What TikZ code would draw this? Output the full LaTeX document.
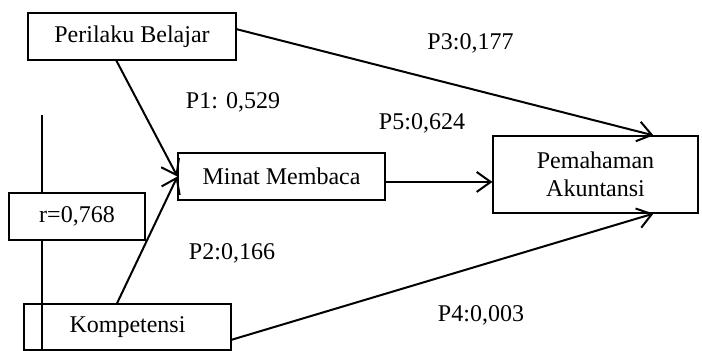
\documentclass[tikz,border=0pt]{standalone}
\usepackage{fontspec}
\setmainfont{Liberation Serif}
\usetikzlibrary{arrows.meta}

\begin{document}
\begin{tikzpicture}[x=0.5pt, y=-0.5pt, font=\fontsize{12}{14}\selectfont,
  box/.style = {draw, line width=0.6pt, inner sep=0pt, minimum height=23.5pt},
  path/.style = {line width=1pt, -{Straight Barb[length=7pt,width=10pt,line width=1pt]}}]
\useasboundingbox (0,0) rectangle (702,351);
\node[box, minimum width=104pt] (perilaku) at (132,36.5) {Perilaku Belajar};
\node[box, minimum width=103.5pt] (minat) at (281.5,176.5) {Minat Membaca};
\node[box, minimum width=103.5pt, minimum height=23pt] (kompetensi) at (127.5,327) {Kompetensi};
\node[box, minimum width=102.5pt, minimum height=38.5pt, align=center] (pemahaman) at (595.5,174.5) {Pemahaman\\Akuntansi};
\node[box, minimum width=68pt] (r) at (77,216.5) {r=0,768};
\coordinate (rtop) at (42,115);
\coordinate (rbot) at (42,351);
\draw[line width=0.6pt] (rtop) -- (r.north -| rtop);
\draw[line width=0.6pt] (r.south -| rbot) -- (rbot);
\draw[path] (perilaku.237.5) -- (minat.west);
\draw[path] (kompetensi.114.5) -- (minat.west);
\draw[path] (perilaku.4.7) -- (pemahaman.34.3);
\draw[path] (kompetensi.-7.2) -- (pemahaman.-34.3);
\draw[path] (minat.-3.6) -- (minat.-3.6 -| pemahaman.west);
\node (p1) at (233,102) {P1: 0,529};
\node (p2) at (232,253) {P2:0,166};
\node (p3) at (470.5,43) {P3:0,177};
\node (p4) at (481,315) {P4:0,003};
\node (p5) at (422,123) {P5:0,624};
\end{tikzpicture}
\end{document}
